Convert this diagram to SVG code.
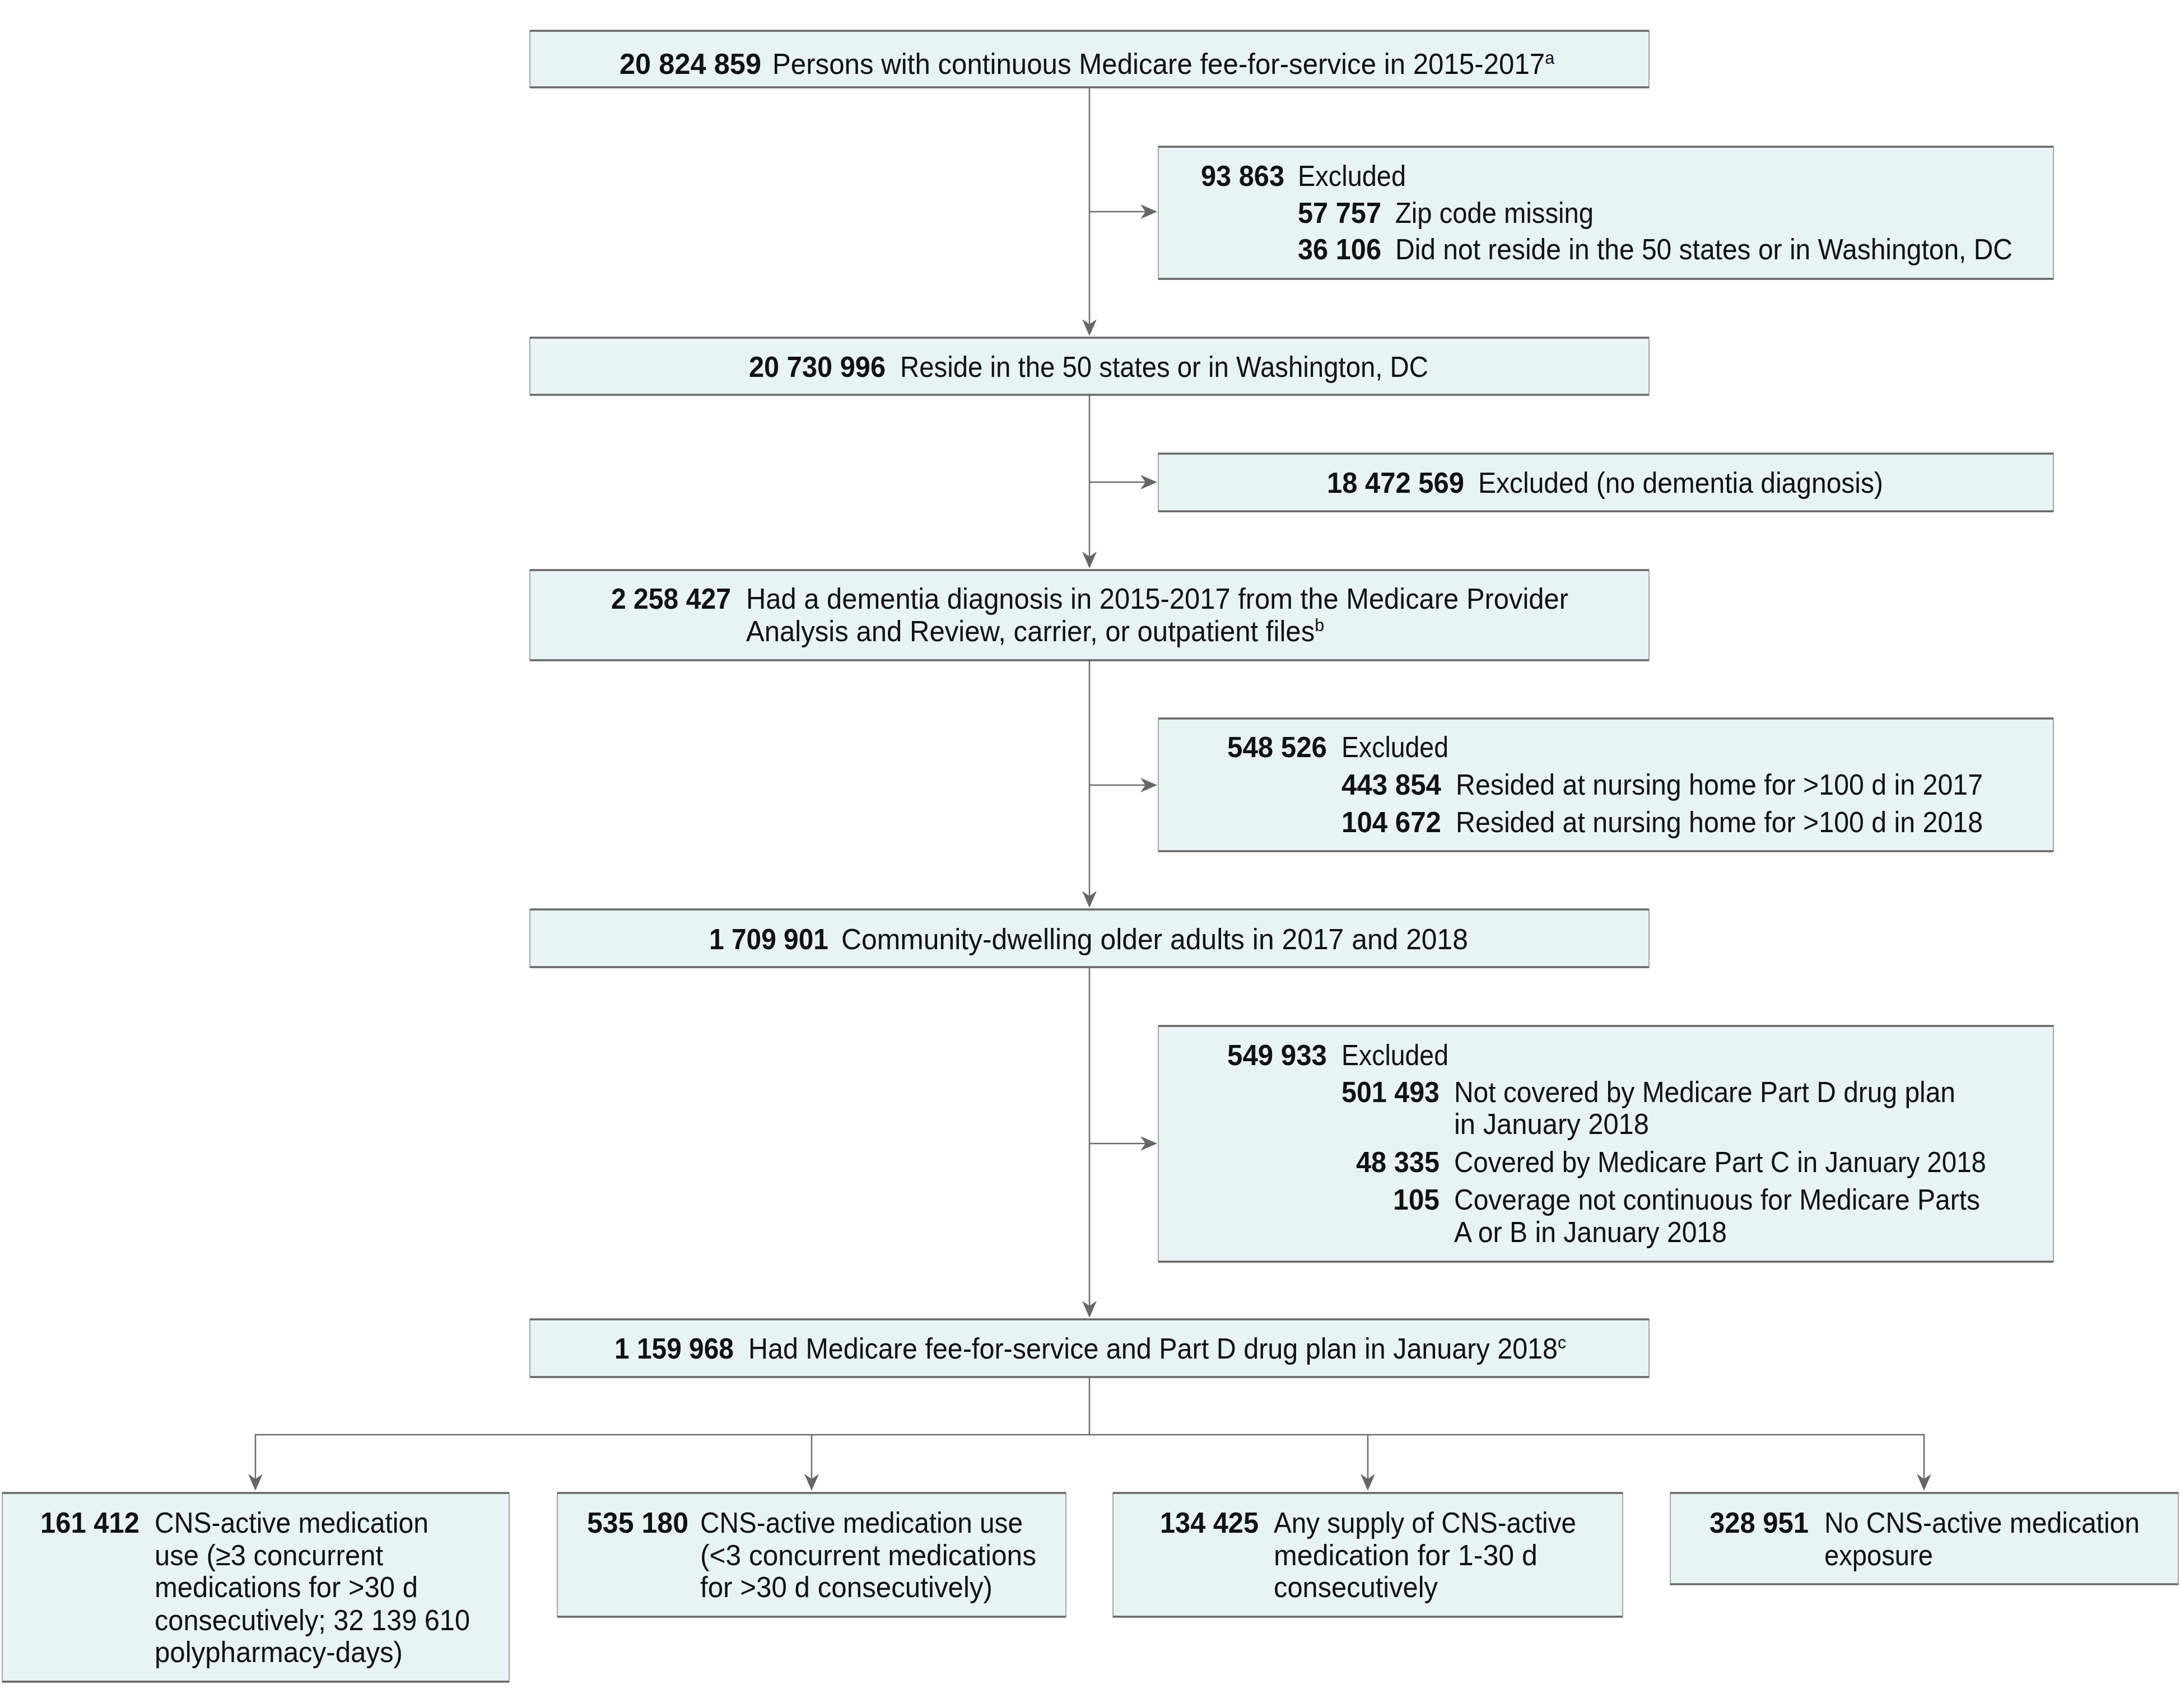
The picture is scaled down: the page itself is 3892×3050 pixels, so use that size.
<svg xmlns="http://www.w3.org/2000/svg" width="3892" height="3050" viewBox="0 0 3892 3050">
<style>
  .bg { fill: #ffffff; }
  .box { fill: #e8f3f4; stroke: #8c8c8c; stroke-width: 1.5; }
  .edge { stroke: #666666; stroke-width: 3.5; }
  .conn { stroke: #6b6b6b; stroke-width: 2.5; fill: none; }
  text { font-family: "Liberation Sans", Arial, sans-serif; font-size: 52px; fill: #111111; }
  .num { font-weight: 700; }
  .sup { font-size: 32px; }
</style>
<defs>
  <marker id="arr" markerUnits="userSpaceOnUse" markerWidth="30" markerHeight="26" viewBox="0 0 30 26" refX="20" refY="13" orient="auto">
    <path d="M0,0 L30,13 L0,26 L9,13 Z" fill="#666666"/>
  </marker>
</defs>
<rect class="bg" x="0" y="0" width="3892" height="3050"/>

<g id="connectors">
  <line class="conn" x1="1945" y1="156" x2="1945" y2="590" marker-end="url(#arr)"/>
  <line class="conn" x1="1945" y1="378" x2="2056" y2="378" marker-end="url(#arr)"/>
  <line class="conn" x1="1945" y1="705" x2="1945" y2="1005" marker-end="url(#arr)"/>
  <line class="conn" x1="1945" y1="861" x2="2056" y2="861" marker-end="url(#arr)"/>
  <line class="conn" x1="1945" y1="1179" x2="1945" y2="1611" marker-end="url(#arr)"/>
  <line class="conn" x1="1945" y1="1402" x2="2056" y2="1402" marker-end="url(#arr)"/>
  <line class="conn" x1="1945" y1="1727" x2="1945" y2="2343" marker-end="url(#arr)"/>
  <line class="conn" x1="1945" y1="2042" x2="2056" y2="2042" marker-end="url(#arr)"/>
  <line class="conn" x1="1945" y1="2459" x2="1945" y2="2562"/>
  <line class="conn" x1="455" y1="2562" x2="3436" y2="2562"/>
  <line class="conn" x1="456" y1="2562" x2="456" y2="2652" marker-end="url(#arr)"/>
  <line class="conn" x1="1449" y1="2562" x2="1449" y2="2652" marker-end="url(#arr)"/>
  <line class="conn" x1="2442" y1="2562" x2="2442" y2="2652" marker-end="url(#arr)"/>
  <line class="conn" x1="3435" y1="2562" x2="3435" y2="2652" marker-end="url(#arr)"/>
</g>

<g id="box1">
  <rect class="box" x="946" y="55" width="1998" height="101"/>
  <line class="edge" x1="946" y1="55" x2="2944" y2="55"/>
  <line class="edge" x1="946" y1="156" x2="2944" y2="156"/>
  <text class="num" x="1106" y="132" textLength="253" lengthAdjust="spacingAndGlyphs">20 824 859</text>
  <text x="1379" y="132" textLength="1396" lengthAdjust="spacingAndGlyphs">Persons with continuous Medicare fee-for-service in 2015-2017<tspan class="sup" dy="-18">a</tspan></text>
</g>

<g id="excl1">
  <rect class="box" x="2068" y="262" width="1598" height="236"/>
  <line class="edge" x1="2068" y1="262" x2="3666" y2="262"/>
  <line class="edge" x1="2068" y1="498" x2="3666" y2="498"/>
  <text class="num" x="2144" y="332" textLength="149" lengthAdjust="spacingAndGlyphs">93 863</text>
  <text x="2317" y="332" textLength="193" lengthAdjust="spacingAndGlyphs">Excluded</text>
  <text class="num" x="2317" y="398" textLength="149" lengthAdjust="spacingAndGlyphs">57 757</text>
  <text x="2491" y="398" textLength="354" lengthAdjust="spacingAndGlyphs">Zip code missing</text>
  <text class="num" x="2317" y="463" textLength="149" lengthAdjust="spacingAndGlyphs">36 106</text>
  <text x="2491" y="463" textLength="1102" lengthAdjust="spacingAndGlyphs">Did not reside in the 50 states or in Washington, DC</text>
</g>

<g id="box2">
  <rect class="box" x="946" y="603" width="1998" height="102"/>
  <line class="edge" x1="946" y1="603" x2="2944" y2="603"/>
  <line class="edge" x1="946" y1="705" x2="2944" y2="705"/>
  <text class="num" x="1337" y="673" textLength="244" lengthAdjust="spacingAndGlyphs">20 730 996</text>
  <text x="1607" y="673" textLength="943" lengthAdjust="spacingAndGlyphs">Reside in the 50 states or in Washington, DC</text>
</g>

<g id="excl2">
  <rect class="box" x="2068" y="810" width="1598" height="103"/>
  <line class="edge" x1="2068" y1="810" x2="3666" y2="810"/>
  <line class="edge" x1="2068" y1="913" x2="3666" y2="913"/>
  <text class="num" x="2369" y="880" textLength="245" lengthAdjust="spacingAndGlyphs">18 472 569</text>
  <text x="2639" y="880" textLength="723" lengthAdjust="spacingAndGlyphs">Excluded (no dementia diagnosis)</text>
</g>

<g id="box3">
  <rect class="box" x="946" y="1018" width="1998" height="161"/>
  <line class="edge" x1="946" y1="1018" x2="2944" y2="1018"/>
  <line class="edge" x1="946" y1="1179" x2="2944" y2="1179"/>
  <text class="num" x="1091" y="1087" textLength="214" lengthAdjust="spacingAndGlyphs">2 258 427</text>
  <text x="1332" y="1087" textLength="1468" lengthAdjust="spacingAndGlyphs">Had a dementia diagnosis in 2015-2017 from the Medicare Provider</text>
  <text x="1332" y="1145" textLength="1032" lengthAdjust="spacingAndGlyphs">Analysis and Review, carrier, or outpatient files<tspan class="sup" dy="-18">b</tspan></text>
</g>

<g id="excl3">
  <rect class="box" x="2068" y="1283" width="1598" height="237"/>
  <line class="edge" x1="2068" y1="1283" x2="3666" y2="1283"/>
  <line class="edge" x1="2068" y1="1520" x2="3666" y2="1520"/>
  <text class="num" x="2191" y="1352" textLength="178" lengthAdjust="spacingAndGlyphs">548 526</text>
  <text x="2395" y="1352" textLength="191" lengthAdjust="spacingAndGlyphs">Excluded</text>
  <text class="num" x="2395" y="1419" textLength="178" lengthAdjust="spacingAndGlyphs">443 854</text>
  <text x="2599" y="1419" textLength="941" lengthAdjust="spacingAndGlyphs">Resided at nursing home for &gt;100 d in 2017</text>
  <text class="num" x="2395" y="1486" textLength="178" lengthAdjust="spacingAndGlyphs">104 672</text>
  <text x="2599" y="1486" textLength="941" lengthAdjust="spacingAndGlyphs">Resided at nursing home for &gt;100 d in 2018</text>
</g>

<g id="box4">
  <rect class="box" x="946" y="1624" width="1998" height="103"/>
  <line class="edge" x1="946" y1="1624" x2="2944" y2="1624"/>
  <line class="edge" x1="946" y1="1727" x2="2944" y2="1727"/>
  <text class="num" x="1266" y="1695" textLength="213" lengthAdjust="spacingAndGlyphs">1 709 901</text>
  <text x="1502" y="1695" textLength="1119" lengthAdjust="spacingAndGlyphs">Community-dwelling older adults in 2017 and 2018</text>
</g>

<g id="excl4">
  <rect class="box" x="2068" y="1832" width="1598" height="421"/>
  <line class="edge" x1="2068" y1="1832" x2="3666" y2="1832"/>
  <line class="edge" x1="2068" y1="2253" x2="3666" y2="2253"/>
  <text class="num" x="2191" y="1902" textLength="178" lengthAdjust="spacingAndGlyphs">549 933</text>
  <text x="2395" y="1902" textLength="191" lengthAdjust="spacingAndGlyphs">Excluded</text>
  <text class="num" x="2395" y="1968" textLength="175" lengthAdjust="spacingAndGlyphs">501 493</text>
  <text x="2596" y="1968" textLength="895" lengthAdjust="spacingAndGlyphs">Not covered by Medicare Part D drug plan</text>
  <text x="2596" y="2025" textLength="348" lengthAdjust="spacingAndGlyphs">in January 2018</text>
  <text class="num" x="2421" y="2093" textLength="149" lengthAdjust="spacingAndGlyphs">48 335</text>
  <text x="2596" y="2093" textLength="950" lengthAdjust="spacingAndGlyphs">Covered by Medicare Part C in January 2018</text>
  <text class="num" x="2487" y="2160" textLength="83" lengthAdjust="spacingAndGlyphs">105</text>
  <text x="2596" y="2160" textLength="939" lengthAdjust="spacingAndGlyphs">Coverage not continuous for Medicare Parts</text>
  <text x="2596" y="2218" textLength="487" lengthAdjust="spacingAndGlyphs">A or B in January 2018</text>
</g>

<g id="box5">
  <rect class="box" x="946" y="2356" width="1998" height="103"/>
  <line class="edge" x1="946" y1="2356" x2="2944" y2="2356"/>
  <line class="edge" x1="946" y1="2459" x2="2944" y2="2459"/>
  <text class="num" x="1097" y="2426" textLength="213" lengthAdjust="spacingAndGlyphs">1 159 968</text>
  <text x="1336" y="2426" textLength="1460" lengthAdjust="spacingAndGlyphs">Had Medicare fee-for-service and Part D drug plan in January 2018<tspan class="sup" dy="-18">c</tspan></text>
</g>

<g id="outcomeA">
  <rect class="box" x="4" y="2666" width="905" height="337"/>
  <line class="edge" x1="4" y1="2666" x2="909" y2="2666"/>
  <line class="edge" x1="4" y1="3003" x2="909" y2="3003"/>
  <text class="num" x="72" y="2737" textLength="177" lengthAdjust="spacingAndGlyphs">161 412</text>
  <text x="276" y="2737" textLength="489" lengthAdjust="spacingAndGlyphs">CNS-active medication</text>
  <text x="276" y="2795" textLength="408" lengthAdjust="spacingAndGlyphs">use (≥3 concurrent</text>
  <text x="276" y="2852" textLength="470" lengthAdjust="spacingAndGlyphs">medications for &gt;30 d</text>
  <text x="276" y="2911" textLength="563" lengthAdjust="spacingAndGlyphs">consecutively; 32 139 610</text>
  <text x="276" y="2968" textLength="443" lengthAdjust="spacingAndGlyphs">polypharmacy-days)</text>
</g>

<g id="outcomeB">
  <rect class="box" x="995" y="2666" width="908" height="221"/>
  <line class="edge" x1="995" y1="2666" x2="1903" y2="2666"/>
  <line class="edge" x1="995" y1="2887" x2="1903" y2="2887"/>
  <text class="num" x="1048" y="2737" textLength="181" lengthAdjust="spacingAndGlyphs">535 180</text>
  <text x="1250" y="2737" textLength="576" lengthAdjust="spacingAndGlyphs">CNS-active medication use</text>
  <text x="1250" y="2795" textLength="600" lengthAdjust="spacingAndGlyphs">(&lt;3 concurrent medications</text>
  <text x="1250" y="2852" textLength="522" lengthAdjust="spacingAndGlyphs">for &gt;30 d consecutively)</text>
</g>

<g id="outcomeC">
  <rect class="box" x="1987" y="2666" width="910" height="221"/>
  <line class="edge" x1="1987" y1="2666" x2="2897" y2="2666"/>
  <line class="edge" x1="1987" y1="2887" x2="2897" y2="2887"/>
  <text class="num" x="2071" y="2737" textLength="176" lengthAdjust="spacingAndGlyphs">134 425</text>
  <text x="2274" y="2737" textLength="540" lengthAdjust="spacingAndGlyphs">Any supply of CNS-active</text>
  <text x="2274" y="2795" textLength="471" lengthAdjust="spacingAndGlyphs">medication for 1-30 d</text>
  <text x="2274" y="2852" textLength="293" lengthAdjust="spacingAndGlyphs">consecutively</text>
</g>

<g id="outcomeD">
  <rect class="box" x="2982" y="2666" width="907" height="163"/>
  <line class="edge" x1="2982" y1="2666" x2="3889" y2="2666"/>
  <line class="edge" x1="2982" y1="2829" x2="3889" y2="2829"/>
  <text class="num" x="3052" y="2737" textLength="177" lengthAdjust="spacingAndGlyphs">328 951</text>
  <text x="3257" y="2737" textLength="563" lengthAdjust="spacingAndGlyphs">No CNS-active medication</text>
  <text x="3257" y="2795" textLength="194" lengthAdjust="spacingAndGlyphs">exposure</text>
</g>
</svg>
